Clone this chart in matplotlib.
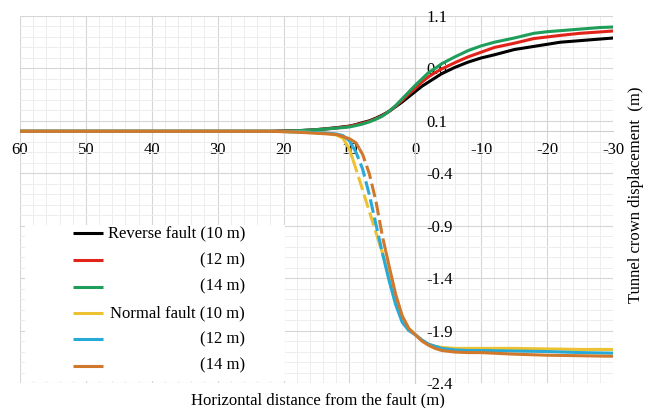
import numpy as np
import matplotlib
matplotlib.use("Agg")
import matplotlib.pyplot as plt
from matplotlib.patches import Rectangle
from matplotlib.ticker import MultipleLocator, FixedLocator

plt.rcParams['font.family'] = ['Liberation Serif', 'DejaVu Serif']

# ---------------- data ----------------
x_rev = [60, 50, 40, 30, 22, 20, 18, 16, 14, 12, 10, 9, 8, 7, 6, 5, 4, 3, 2, 1, 0,
         -1, -2, -3, -4, -6, -8, -10, -12, -15, -18, -20, -22, -25, -28, -30]
rev_10 = [0, 0, 0, 0, 0, 0.003, 0.006, 0.012, 0.022, 0.035, 0.05, 0.065, 0.083, 0.10, 0.125,
          0.155, 0.19, 0.235, 0.28, 0.33, 0.38, 0.43, 0.47, 0.51, 0.55, 0.61, 0.66, 0.70,
          0.73, 0.78, 0.81, 0.83, 0.85, 0.865, 0.88, 0.89]
rev_12 = [0, 0, 0, 0, 0, 0.002, 0.005, 0.011, 0.02, 0.032, 0.048, 0.062, 0.078, 0.095, 0.12,
          0.15, 0.19, 0.24, 0.295, 0.355, 0.41, 0.47, 0.52, 0.56, 0.595, 0.655, 0.71, 0.755,
          0.80, 0.84, 0.885, 0.90, 0.915, 0.935, 0.948, 0.957]
rev_14 = [0, 0, 0, 0, 0, 0.002, 0.006, 0.012, 0.02, 0.03, 0.042, 0.055, 0.07, 0.09, 0.115,
          0.145, 0.19, 0.245, 0.31, 0.375, 0.44, 0.50, 0.56, 0.60, 0.645, 0.71, 0.77, 0.815,
          0.85, 0.89, 0.935, 0.95, 0.96, 0.975, 0.99, 0.995]

x_nor = [60, 50, 40, 30, 22, 20, 18, 16, 14, 12, 11, 10, 9, 8, 7, 6, 5, 4, 3, 2, 1, 0,
         -1, -2, -3, -4, -6, -8, -10, -15, -20, -25, -30]
nor_10 = [0, 0, 0, 0, 0, -0.002, -0.005, -0.01, -0.015, -0.035, -0.065, -0.17, -0.36, -0.56,
          -0.76, -0.96, -1.16, -1.38, -1.58, -1.76, -1.88, -1.94, -1.99, -2.03, -2.05, -2.06,
          -2.07, -2.07, -2.07, -2.07, -2.075, -2.08, -2.08]
nor_12 = [0, 0, 0, 0, 0, -0.002, -0.005, -0.01, -0.015, -0.025, -0.04, -0.09, -0.20, -0.36,
          -0.60, -0.88, -1.16, -1.42, -1.65, -1.82, -1.90, -1.94, -1.99, -2.03, -2.05, -2.07,
          -2.085, -2.09, -2.09, -2.095, -2.10, -2.11, -2.115]
nor_14 = [0, 0, 0, 0, 0, -0.003, -0.008, -0.015, -0.022, -0.03, -0.05, -0.07, -0.11, -0.22,
          -0.40, -0.66, -1.0, -1.28, -1.55, -1.76, -1.88, -1.94, -2.0, -2.04, -2.07, -2.09,
          -2.105, -2.11, -2.11, -2.125, -2.135, -2.14, -2.145]

labels = ["Reverse fault (10 m)", "(12 m)", "(14 m)", "Normal fault (10 m)", "(12 m)", "(14 m)"]
colors = ["#000000", "#E2231A", "#1E9E5A", "#EDC232", "#27AAD8", "#D0782C"]
x_ticks = [60, 50, 40, 30, 20, 10, 0, -10, -20, -30]
y_ticks = [-2.4, -1.9, -1.4, -0.9, -0.4, 0.1, 0.6, 1.1]
dash_ranges = [(9.5, 5.5), (9.5, 5), (8.5, 4.5)]

FS = 12

# ---------------- figure ----------------
fig = plt.figure(figsize=(6.52, 4.08), dpi=100)
ax = fig.add_axes([20 / 652, 25 / 408, 593 / 652, 367 / 408])

ax.set_xlim(60, -30)
ax.set_ylim(-2.4, 1.1)
ax.xaxis.set_major_locator(FixedLocator(x_ticks))
ax.xaxis.set_minor_locator(MultipleLocator(2))
ax.yaxis.set_major_locator(FixedLocator(y_ticks))
ax.yaxis.set_minor_locator(FixedLocator(np.round(np.arange(-2.4, 1.1001, 0.1), 2)))
ax.grid(which='major', color='#d6d6d6', lw=0.8, zorder=0)
ax.grid(which='minor', color='#ededed', lw=0.7, zorder=0)
ax.set_axisbelow(True)

for s in ['top', 'left']:
    ax.spines[s].set_visible(False)
ax.spines['bottom'].set_position(('data', 0))
ax.spines['right'].set_position(('data', 0))
ax.spines['bottom'].set_color('#cfcfcf')
ax.spines['right'].set_color('#cfcfcf')
ax.spines['bottom'].set_linewidth(0.8)
ax.spines['right'].set_linewidth(0.8)
ax.yaxis.tick_right()
ax.tick_params(axis='both', which='both', length=0)
ax.tick_params(axis='x', pad=8, labelsize=FS)
ax.tick_params(axis='y', pad=8, labelsize=FS)
ax.set_xticklabels([str(v) for v in x_ticks])
ax.set_yticklabels([f"{v:.1f}" for v in y_ticks])
for lab in ax.get_yticklabels():
    lab.set_horizontalalignment('left')

lw = 2.2
ax.plot(x_rev, rev_10, color=colors[0], lw=lw, zorder=3)
ax.plot(x_rev, rev_12, color=colors[1], lw=lw, zorder=4)
ax.plot(x_rev, rev_14, color=colors[2], lw=lw, zorder=5)


def plot_normal(xs, ys, color, rng, z):
    xs = np.asarray(xs, float)
    ys = np.asarray(ys, float)
    hi, lo = rng
    yi_hi = np.interp(hi, xs[::-1], ys[::-1])
    yi_lo = np.interp(lo, xs[::-1], ys[::-1])
    m1 = xs > hi
    m2 = (xs < hi) & (xs > lo)
    m3 = xs < lo
    ax.plot(np.r_[xs[m1], hi], np.r_[ys[m1], yi_hi], color=color, lw=lw, zorder=z,
            solid_capstyle='butt')
    ax.plot(np.r_[hi, xs[m2], lo], np.r_[yi_hi, ys[m2], yi_lo], color=color, lw=lw,
            zorder=z, linestyle=(0, (4.5, 1.6)), dash_capstyle='butt')
    ax.plot(np.r_[lo, xs[m3]], np.r_[yi_lo, ys[m3]], color=color, lw=lw, zorder=z,
            solid_capstyle='butt')


plot_normal(x_nor, nor_10, colors[3], dash_ranges[0], 6)
plot_normal(x_nor, nor_12, colors[4], dash_ranges[1], 7)
plot_normal(x_nor, nor_14, colors[5], dash_ranges[2], 8)

# ---------------- legend (manual) ----------------
W, H = 593.0, 367.0
ax.add_patch(Rectangle(((25 - 20) / W, 2 / H), (285 - 25) / W, (383 - 225 - 2) / H,
                       transform=ax.transAxes, facecolor='white', edgecolor='none', zorder=9))
row_y = [233.3, 260, 286.7, 313.3, 339.3, 365.7]
for lab, c, py in zip(labels, colors, row_y):
    yy = (383 - py) / H
    ax.plot([(73 - 20) / W, (103 - 20) / W], [yy, yy], color=c, lw=lw,
            transform=ax.transAxes, zorder=10, solid_capstyle='butt')
    ax.text((245 - 20) / W, yy, lab, transform=ax.transAxes, ha='right', va='center',
            fontsize=FS, zorder=11)

# ---------------- axis titles ----------------
fig.text(318 / 652, 1 - 400.5 / 408, "Horizontal distance from the fault (m)",
         ha='center', va='center', fontsize=FS)
fig.text(636 / 652, 1 - 195 / 408, "Tunnel crown displacement  (m)",
         ha='center', va='center', rotation=90, fontsize=FS)

fig.savefig("out.png", dpi=100)
